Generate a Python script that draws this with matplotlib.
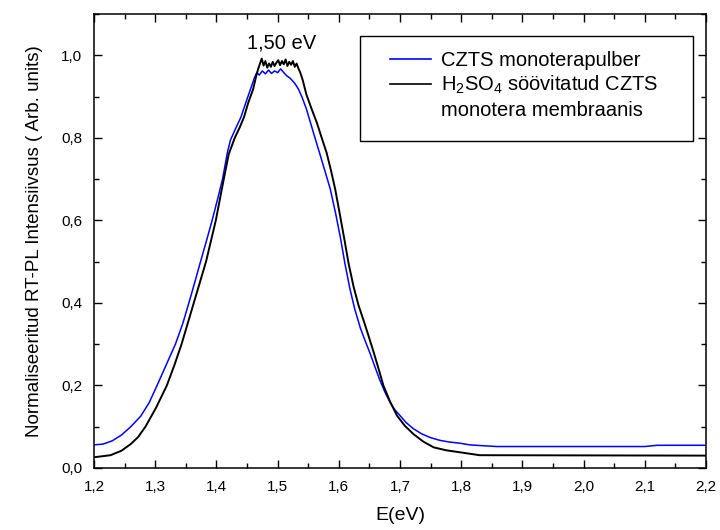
import matplotlib
matplotlib.use("Agg")
import matplotlib.pyplot as plt
from matplotlib.ticker import MultipleLocator, FuncFormatter
from matplotlib.lines import Line2D
from matplotlib.patches import Rectangle

plt.rcParams['font.family'] = ['Liberation Sans', 'DejaVu Sans']
plt.rcParams['mathtext.fontset'] = 'custom'
plt.rcParams['mathtext.rm'] = 'Liberation Sans'
plt.rcParams['mathtext.it'] = 'Liberation Sans'

# Blue: CZTS monoterapulber
blue_x = [1.200, 1.215, 1.230, 1.245, 1.260, 1.276, 1.290, 1.303, 1.318, 1.333,
          1.345, 1.355, 1.365, 1.374, 1.384, 1.393, 1.402, 1.410, 1.418, 1.423,
          1.430, 1.440, 1.448, 1.455, 1.462, 1.466, 1.470, 1.475, 1.480, 1.485,
          1.490, 1.495, 1.500, 1.505, 1.510, 1.515, 1.520, 1.528, 1.534, 1.540,
          1.547, 1.554, 1.562, 1.570, 1.578, 1.586, 1.595, 1.603, 1.610, 1.618,
          1.626, 1.635, 1.643, 1.651, 1.659, 1.667, 1.675, 1.684, 1.692, 1.700,
          1.710, 1.722, 1.735, 1.749, 1.765, 1.780, 1.798, 1.814, 1.835, 1.858,
          2.100, 2.120, 2.200]
blue_y = [0.056, 0.058, 0.066, 0.080, 0.100, 0.125, 0.158, 0.200, 0.250, 0.300,
          0.350, 0.400, 0.452, 0.500, 0.552, 0.600, 0.652, 0.700, 0.765, 0.795,
          0.818, 0.850, 0.885, 0.915, 0.945, 0.958, 0.952, 0.962, 0.955, 0.964,
          0.956, 0.962, 0.958, 0.967, 0.958, 0.950, 0.945, 0.932, 0.918, 0.898,
          0.870, 0.835, 0.795, 0.756, 0.716, 0.676, 0.615, 0.555, 0.495, 0.435,
          0.385, 0.340, 0.308, 0.278, 0.245, 0.213, 0.185, 0.158, 0.140, 0.127,
          0.110, 0.095, 0.083, 0.074, 0.067, 0.063, 0.060, 0.056, 0.054, 0.052,
          0.052, 0.055, 0.055]

# Black: H2SO4 etched CZTS monograins in membrane
black_x = [1.200, 1.227, 1.245, 1.260, 1.272, 1.284, 1.301, 1.319, 1.331, 1.343,
           1.353, 1.363, 1.373, 1.383, 1.391, 1.399, 1.412, 1.420, 1.430, 1.438,
           1.445, 1.452, 1.460, 1.465, 1.468, 1.474, 1.477, 1.480, 1.483, 1.486,
           1.489, 1.492, 1.495, 1.498, 1.501, 1.504, 1.507, 1.510, 1.513, 1.516,
           1.519, 1.522, 1.525, 1.528, 1.531, 1.534, 1.537, 1.541, 1.547, 1.556,
           1.564, 1.572, 1.580, 1.587, 1.594, 1.602, 1.610, 1.616, 1.624, 1.632,
           1.641, 1.649, 1.657, 1.665, 1.673, 1.684, 1.695, 1.708, 1.722, 1.738,
           1.755, 1.775, 1.798, 1.830, 2.200]
black_y = [0.026, 0.031, 0.042, 0.058, 0.075, 0.100, 0.145, 0.200, 0.248, 0.300,
           0.350, 0.400, 0.450, 0.500, 0.550, 0.600, 0.700, 0.760, 0.800, 0.825,
           0.850, 0.885, 0.918, 0.950, 0.966, 0.992, 0.975, 0.986, 0.970, 0.980,
           0.972, 0.984, 0.974, 0.982, 0.988, 0.976, 0.986, 0.978, 0.990, 0.974,
           0.984, 0.977, 0.986, 0.972, 0.980, 0.968, 0.958, 0.940, 0.905, 0.868,
           0.837, 0.800, 0.764, 0.722, 0.676, 0.612, 0.546, 0.495, 0.440, 0.395,
           0.355, 0.318, 0.280, 0.240, 0.199, 0.160, 0.127, 0.102, 0.082, 0.064,
           0.050, 0.043, 0.038, 0.031, 0.030]

labels = ["CZTS monoterapulber", "H$_2$SO$_4$ söövitatud CZTS", "monotera membraanis"]

fig = plt.figure(figsize=(7.2, 5.3), dpi=100)
ax = fig.add_axes([0.1306, 0.117, 0.850, 0.8566])

ax.plot(blue_x, blue_y, color='#0000ff', lw=1.1)
ax.plot(black_x, black_y, color='black', lw=1.4)

ax.set_xlim(1.2, 2.2)
ax.set_ylim(0.0, 1.1)

ax.xaxis.set_major_locator(MultipleLocator(0.1))
ax.xaxis.set_minor_locator(MultipleLocator(0.05))
ax.yaxis.set_major_locator(MultipleLocator(0.2))
ax.yaxis.set_minor_locator(MultipleLocator(0.1))
fmt = FuncFormatter(lambda v, p: f"{v:.1f}".replace('.', ','))
ax.xaxis.set_major_formatter(fmt)
ax.yaxis.set_major_formatter(fmt)

ax.tick_params(which='both', direction='in', top=True, right=True, labelsize=11, colors='black')
ax.tick_params(which='major', length=6, width=1)
ax.tick_params(which='minor', length=3.5, width=1)
ax.tick_params(axis='x', pad=9)
ax.tick_params(axis='y', pad=8.5)
for s in ax.spines.values():
    s.set_linewidth(1.1)

ax.set_xlabel("E(eV)", fontsize=14, labelpad=9)
ax.set_ylabel("Normaliseeritud RT-PL Intensiivsus ( Arb. units)", fontsize=13.5, labelpad=13)

ax.text(1.507, 1.03, "1,50 eV", fontsize=14.5, ha='center', va='center')

# legend frame
ax.add_patch(Rectangle((0.4346, 0.7203), 0.5442, 0.2312, transform=ax.transAxes,
                       facecolor='white', edgecolor='black', lw=1.0, zorder=4))

handles = [Line2D([], [], color='#0000ff', lw=1.2),
           Line2D([], [], color='black', lw=1.2),
           Line2D([], [], color='none', lw=0)]
leg = ax.legend(handles, labels, loc='upper left', bbox_to_anchor=(0.4837, 0.919),
                fontsize=14.5, frameon=False, handlelength=2.05, handletextpad=0.5,
                labelspacing=0.22, borderpad=0, borderaxespad=0)
leg.set_zorder(5)

fig.savefig("out.png", dpi=100)
